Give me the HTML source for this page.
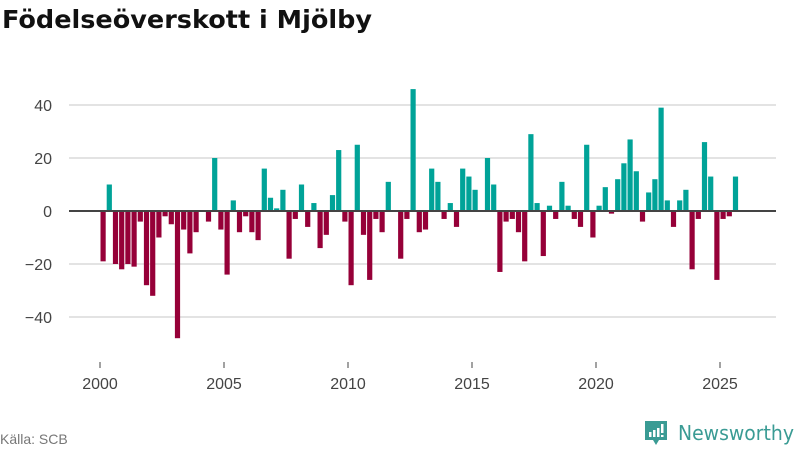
<!DOCTYPE html>
<html><head><meta charset="utf-8"><style>
body{margin:0;background:#fff;width:800px;height:450px;overflow:hidden;font-family:"Liberation Sans",sans-serif}
</style></head><body>
<svg width="800" height="450" xmlns="http://www.w3.org/2000/svg">
<text x="2" y="28" font-size="25" font-weight="bold" fill="#111" font-family="DejaVu Sans, Liberation Sans, sans-serif" textLength="370" lengthAdjust="spacingAndGlyphs">Födelseöverskott i Mjölby</text>
<g id="grid"></g><g id="bars"></g><g id="xaxis"></g>
<text x="0" y="444" font-size="14" fill="#777">Källa: SCB</text>
<g>
<path d="M645 421h22v19h-8l-3 5-3-5h-8z" fill="#3a9b94"/>
<rect x="649" y="432" width="2.5" height="5" fill="#fff"/><rect x="653" y="430" width="2.5" height="7" fill="#fff"/><rect x="657" y="428" width="2.5" height="9" fill="#fff"/><rect x="661" y="424" width="2.5" height="9" fill="#fff"/><rect x="661" y="435" width="2.5" height="2" fill="#fff"/>
<text x="678" y="440" font-size="20" fill="#3a9b94" font-family="DejaVu Sans, Liberation Sans, sans-serif" textLength="116" lengthAdjust="spacingAndGlyphs">Newsworthy</text>
</g>
</svg>
<script>
const values=[-19,10,-20,-22,-20,-21,-4,-28,-32,-10,-2,-5,-48,-7,-16,-8,
0,-4,20,-7,-24,4,-8,-2,-8,-11,16,5,1,8,-18,-3,10,-6,3,-14,
-9,6,23,-4,-28,25,-9,-26,-3,-8,11,0,-18,-3,46,-8,-7,16,11,-3,3,-6,16,13,8,0,20,10,-23,-4,-3,-8,-19,29,
3,-17,2,-3,11,2,-3,-6,25,-10,2,9,-1,12,18,27,15,-4,7,12,39,4,-6,4,8,-22,-3,26,13,-26,-3,-2,13];
const yTicks=[40,20,0,-20,-40];
const xTicks=[2000,2005,2010,2015,2020,2025];
const NS="http://www.w3.org/2000/svg";
const x0=100,pxYear=24.8,y0=211,pxUnit=2.65;
const X=yr=>x0+(yr-2000)*pxYear;
const Y=v=>y0-v*pxUnit;
function mk(t,a,p){const e=document.createElementNS(NS,t);for(const k in a)e.setAttribute(k,a[k]);p.appendChild(e);return e;}
const grid=document.getElementById('grid');
yTicks.forEach(v=>{
 const l=mk('line',{x1:69,x2:776,y1:Y(v),y2:Y(v),stroke:'#e3e3e3','stroke-width':2},grid);
 
 
 const t=mk('text',{x:52,y:Y(v)+6,'text-anchor':'end','font-size':16,fill:'#444'},grid);
 t.textContent=String(v).replace('-','−');
 
 
});
const bars=document.getElementById('bars');
values.forEach((v,i)=>{
 if(v===0)return;
 const cx=X(2000+(i+0.5)/4);
 const r=mk('rect',{x:cx-2.6,width:5.2,y:Math.min(Y(v),y0),height:Math.abs(Y(v)-y0),fill:v>0?'#00a398':'#960038'},bars);
 
 
});
const xa=document.getElementById('xaxis');
const zl=mk('line',{x1:69,x2:776,y1:y0,y2:y0,stroke:'#444','stroke-width':2},xa);


xTicks.forEach(yr=>{
 const tk=mk('line',{x1:X(yr),x2:X(yr),y1:362,y2:368,stroke:'#444','stroke-width':1},xa);
 
 
 const t=mk('text',{x:X(yr),y:389,'text-anchor':'middle','font-size':16,fill:'#444'},xa);
 t.textContent=yr;
 
 
});
</script>
</body></html>
